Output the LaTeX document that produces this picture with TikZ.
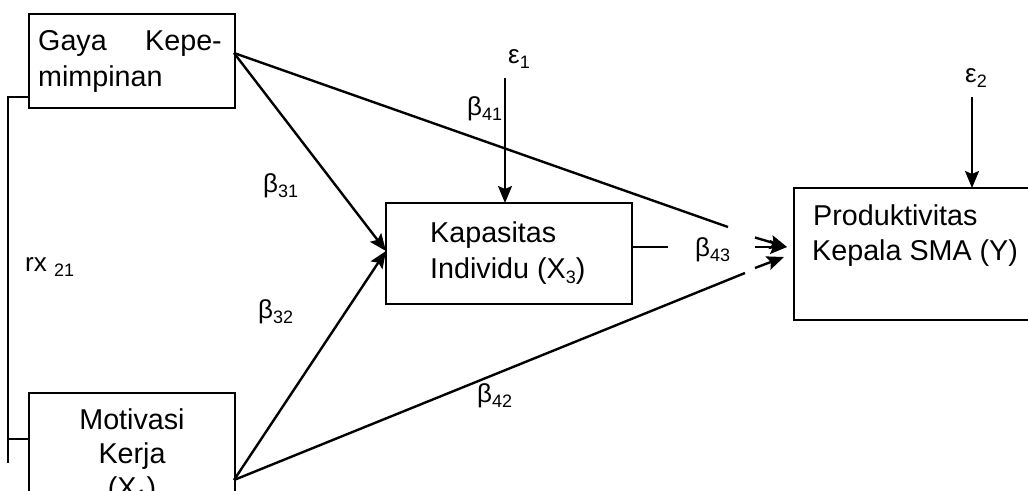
\documentclass[tikz,border=0pt]{standalone}
\usepackage{fontspec}
\setmainfont{Liberation Sans}
\usetikzlibrary{arrows.meta}
\newcommand\sbs[1]{\raisebox{-0.2em}{\fontsize{18}{18}\selectfont #1}}
\begin{document}
\begin{tikzpicture}[x=1pt,y=-1pt,
  boxstyle/.style={draw,line width=1.6pt,inner sep=0pt,anchor=north west},
  txt/.style={inner sep=0pt,anchor=base west,font=\fontsize{28.7}{34}\selectfont},
  lbl/.style={inner sep=0pt,anchor=base west,font=\fontsize{26}{30}\selectfont},
  conn/.style={line width=2.4pt},
  arr/.style={line width=2.4pt,-{Stealth[length=17pt,width=14pt,inset=3pt]}},
  brk/.style={line width=1.4pt}]
\useasboundingbox (0,0) rectangle (1028,490);
\clip (0,0) rectangle (1028,490);
% boxes
\node[boxstyle,minimum width=206pt,minimum height=94pt] (gaya) at (28,13) {};
\node[boxstyle,minimum width=206pt,minimum height=120pt] (moti) at (28,392) {};
\node[boxstyle,minimum width=246pt,minimum height=101pt] (kap) at (385,202) {};
\node[boxstyle,minimum width=260pt,minimum height=132pt] (prod) at (793,187) {};
% box texts
\node[txt] (t1) at (38,50) {Gaya};
\node[txt,anchor=base east] (t2) at (222,50) {Kepe-};
\node[txt] (t3) at (38,86) {mimpinan};
\node[txt,anchor=base] (t4) at (132,429) {Motivasi};
\node[txt,anchor=base] (t5) at (132,463) {Kerja};
\node[txt,anchor=base] (t6) at (132,497) {(X\sbs{1})};
\node[txt] (t7) at (430,242) {Kapasitas};
\node[txt] (t8) at (430,278) {Individu (X\sbs{3})};
\node[txt] (t9) at (813,225) {Produktivitas};
\node[txt] (t10) at (812,260) {Kepala SMA (Y)};
% labels
\node[lbl] (e1) at (508,63) {ε\sbs{1}};
\node[lbl] (e2) at (965,82) {ε\sbs{2}};
\node[lbl] (b41) at (467,115) {β\sbs{41}};
\node[lbl] (b31) at (263,192) {β\sbs{31}};
\node[lbl] (b32) at (258,318) {β\sbs{32}};
\node[lbl] (b42) at (477,402) {β\sbs{42}};
\node[lbl] (b43) at (695,256) {β\sbs{43}};
\node[lbl] (rx) at (25,271) {rx \sbs{21}};
% coordinates
\coordinate (g1) at (234,53);
\coordinate (m1) at (234,480);
\coordinate (k1) at (386,251);
\coordinate (ke) at (631,247);
\coordinate (kh) at (668,247);
\coordinate (ga) at (728,227);
\coordinate (gb) at (755,237.5);
\coordinate (ma) at (745,273);
\coordinate (mb) at (755,268);
\coordinate (ha) at (755,247);
\coordinate (pt) at (787,247);
\coordinate (pb) at (784,257);
\coordinate (e1s) at (505,78);
\coordinate (e1t) at (505,203);
\coordinate (e2s) at (972,97);
\coordinate (e2t) at (972,188);
% connectors
\draw[arr] (g1) -- (k1);
\draw[arr] (m1) -- (k1);
\draw[conn] (g1) -- (ga);
\draw[arr] (gb) -- (pt);
\draw[conn] (ke) -- (kh);
\draw[arr] (ha) -- (pt);
\draw[conn] (m1) -- (ma);
\draw[arr] (mb) -- (pb);
\draw[arr] (e1s) -- (e1t);
\draw[arr] (e2s) -- (e2t);
% correlation bracket
\coordinate (c1) at (28,97);
\coordinate (c2) at (8,97);
\coordinate (c3) at (8,463);
\coordinate (c4) at (8,439);
\coordinate (c5) at (28,439);
\draw[brk] (c1) -- (c2) -- (c3);
\draw[brk] (c4) -- (c5);
\end{tikzpicture}
\end{document}
